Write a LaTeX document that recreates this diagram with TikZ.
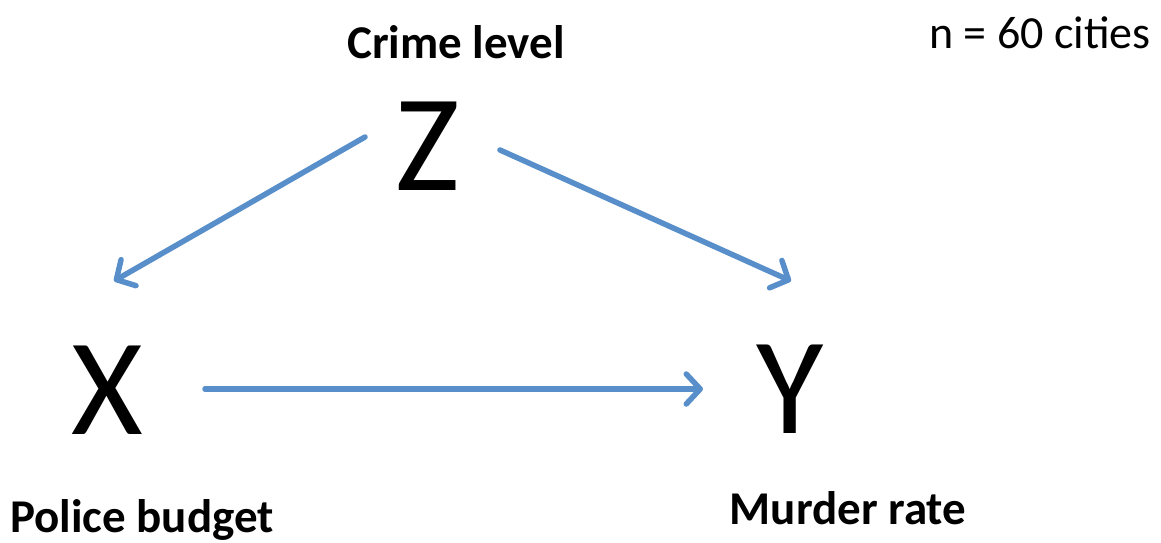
\documentclass[tikz,border=0pt]{standalone}
\usepackage{fontspec}
\setmainfont{Carlito}
\usetikzlibrary{arrows.meta}
\definecolor{arrowblue}{RGB}{88,142,202}
\tikzset{
  lbl/.style={font=\fontsize{47}{56}\selectfont\bfseries, inner sep=0pt},
  var/.style={font=\fontsize{138}{160}\selectfont, inner sep=0pt},
  conn/.style={draw=arrowblue, line width=5.5pt, line cap=round,
    -{Straight Barb[length=14pt, width=30pt, line cap=round, line join=round]}}
}
\begin{document}
\begin{tikzpicture}[x=1pt,y=-1pt]
\useasboundingbox (0,0) rectangle (1161,542);
\node[lbl] (crime) at (456,42) {Crime level};
\node[font=\fontsize{46}{56}\selectfont, inner sep=0pt] (n) at (1040,33) {n = 60 cities};
\node[var] (Z) at (428,146) {Z};
\node[var] (X) at (107,390) {X};
\node[var] (Y) at (790,389) {Y};
\node[lbl] (police) at (142,520) {Police budget};
\node[lbl] (murder) at (848,508) {Murder rate};
\coordinate (zx1) at (365,137);
\coordinate (zx2) at (114,281);
\coordinate (zy1) at (500,150);
\coordinate (zy2) at (791,281);
\coordinate (xy1) at (205,389);
\coordinate (xy2) at (703,389);
\draw[conn] (zx1) -- (zx2);
\draw[conn] (zy1) -- (zy2);
\draw[conn] (xy1) -- (xy2);
\end{tikzpicture}
\end{document}
